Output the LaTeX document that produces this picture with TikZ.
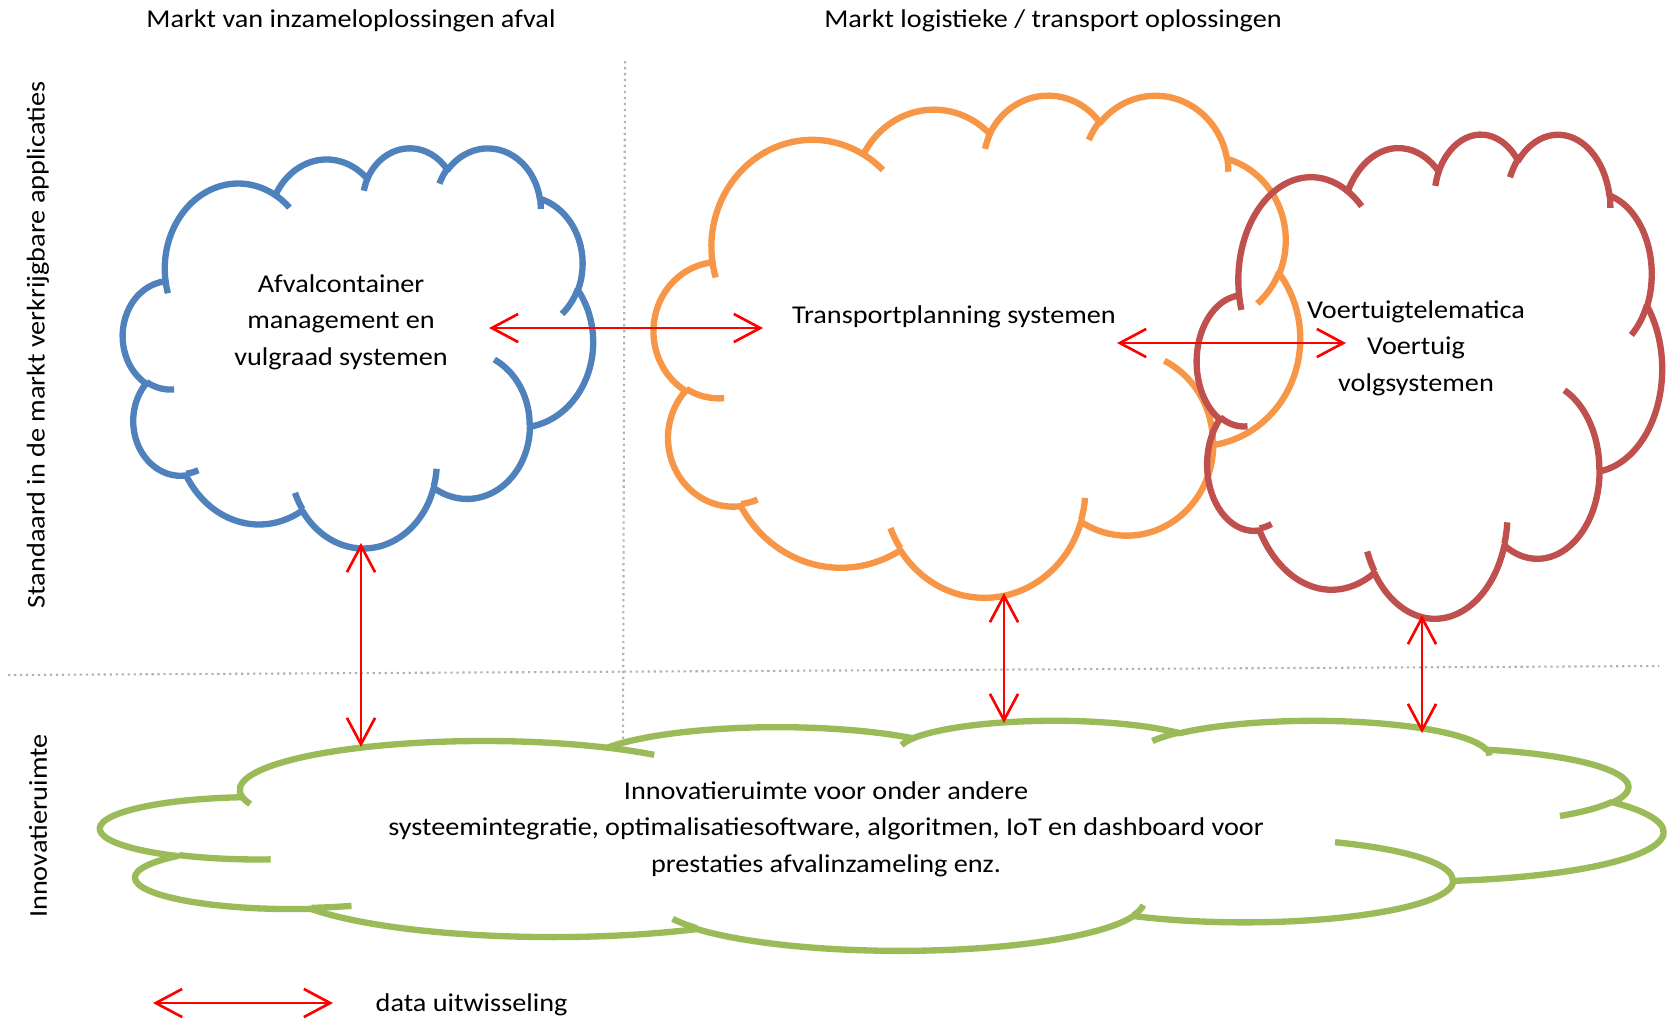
\documentclass[tikz,border=0pt]{standalone}
\usepackage{fontspec}
\setmainfont{Carlito}[FakeStretch=1.1]
\usetikzlibrary{arrows.meta}

\definecolor{afvalblue}{HTML}{4F81BD}
\definecolor{transportorange}{HTML}{F79646}
\definecolor{telematicared}{HTML}{C0504D}
\definecolor{innovatiegreen}{HTML}{9BBB59}

\tikzset{
  cloudline/.style={line width=1.8pt, line join=round},
  datarrow/.style={red, line width=0.75pt, {Straight Barb[length=7.5pt,width=8pt]}-{Straight Barb[length=7.5pt,width=8pt]}},
  divider/.style={gray!60, line width=0.6pt, dash pattern=on 0.65pt off 1.05pt},
  txt/.style={font=\fontsize{7.3}{10.4}\selectfont, align=center, inner sep=0pt},
  declare function={cpar(\a,\p,\q)=\a+mod(atan2(\p*sin(\a),\q*cos(\a))-\a+540,360)-180;}
}

% one puff of a cloud: x radius, y radius, start angle, sweep
\newcommand{\puff}[4]{arc[start angle={cpar(#3,#1,#2)}, end angle={cpar(#3+#4,#1,#2)}, x radius=#1, y radius=#2]}

% cloud in a box: colour, left, top, width, height
\newcommand{\officecloud}[5]{%
  \begin{scope}[shift={(#2,#3)}, xscale=#4/43.2, yscale=#5/43.2]
    \draw[cloudline, #1] (3.9,14.37) \puff{6.753}{9.19}{-190.4875}{123.7805}
      \puff{5.333}{7.267}{-144.1024}{89.9452}
      \puff{4.365}{5.945}{-145.8079}{99.723}
      \puff{4.857}{6.595}{-130.9861}{117.2417}
      \puff{5.333}{7.273}{-78.7089}{109.0269}
      \puff{6.775}{9.22}{-46.2673}{130.269}
      \puff{5.785}{7.867}{0.625}{114.0333}
      \puff{6.752}{9.215}{22.4516}{115.1726}
      \puff{7.72}{10.543}{66.2426}{75.711}
      \puff{4.36}{5.918}{-274.9421}{146.7356}
      \puff{4.345}{5.945}{-246.8285}{152.5189} -- cycle;
    % inner edges
    \draw[cloudline, #1] (4.693,26.177) \puff{4.345}{5.945}{86.742}{26.4295}
      (6.928,34.899) \puff{4.36}{5.918}{73.6105}{11.4475}
      (16.478,39.09) \puff{6.752}{9.215}{137.6242}{14.0811}
      (28.827,34.751) \puff{6.752}{9.215}{6.4533}{15.9984}
      (34.129,22.954) \puff{5.785}{7.867}{-70.2924}{70.9174}
      (41.798,15.354) \puff{5.333}{7.273}{30.318}{27.7515}
      (38.324,5.426) \puff{4.857}{6.595}{-13.7443}{14.8589}
      (29.078,3.952) \puff{4.857}{6.595}{-149.1815}{18.1954}
      (22.141,4.72) \puff{4.365}{5.945}{-163.4943}{17.6864}
      (14,5.192) \puff{6.753}{9.19}{-66.707}{12.3194}
      (4.127,15.789) \puff{6.753}{9.19}{157.6544}{11.8582};
  \end{scope}}

\begin{document}
\begin{tikzpicture}[x=0.01cm, y=-0.01cm]
  \useasboundingbox (0,0) rectangle (1669,1020);

  % Draw dividers
  \draw[divider] (8,675) -- (1659,666);
  \draw[divider] (625,61) -- (623,750);

  % Draw headings
  \node[txt] (markt1) at (351,21) {Markt van inzameloplossingen afval};
  \node[txt] (markt2) at (1053,21) {Markt logistieke / transport oplossingen};
  \node[txt, rotate=90] (standaard) at (38,345) {Standaard in de markt verkrijgbare applicaties};
  \node[txt, rotate=90] (ruimte) at (38,826) {Innovatieruimte};

  % Draw clouds
  \officecloud{afvalblue}{123}{147}{470}{400}
  \officecloud{transportorange}{654}{94}{646}{502}
  \officecloud{telematicared}{1197}{133}{465}{484}
  \officecloud{innovatiegreen}{101}{720}{1562}{230}

  % Cloud texts
  \node[txt] (afval) at (341,322) {Afvalcontainer\\management en\\vulgraad systemen};
  \node[txt] (transport) at (954,317) {Transportplanning systemen};
  \node[txt] (telematica) at (1416,348) {Voertuigtelematica\\Voertuig\\volgsystemen};
  \node[txt] (innovatie) at (826,829) {Innovatieruimte voor onder andere\\systeemintegratie, optimalisatiesoftware, algoritmen, IoT en dashboard voor\\prestaties afvalinzameling enz.};

  % Arrow ends
  \coordinate (afvalE) at (489,328);
  \coordinate (transportW) at (763,328);
  \coordinate (transportE) at (1117,343);
  \coordinate (telematicaW) at (1346,343);
  \coordinate (afvalS) at (361,543);
  \coordinate (innovatieNW) at (361,747);
  \coordinate (transportS) at (1004,593);
  \coordinate (innovatieN) at (1004,723);
  \coordinate (telematicaS) at (1422,615);
  \coordinate (innovatieNE) at (1422,733);

  % Draw data exchange
  \draw[datarrow] (afvalE) -- (transportW);
  \draw[datarrow] (transportE) -- (telematicaW);
  \draw[datarrow] (afvalS) -- (innovatieNW);
  \draw[datarrow] (transportS) -- (innovatieN);
  \draw[datarrow] (telematicaS) -- (innovatieNE);

  % Legend
  \coordinate (legendW) at (153,1003);
  \coordinate (legendE) at (333,1003);
  \draw[datarrow] (legendW) -- (legendE);
  \node[txt, anchor=west] (legend) at (375,1005) {data uitwisseling};
\end{tikzpicture}
\end{document}
